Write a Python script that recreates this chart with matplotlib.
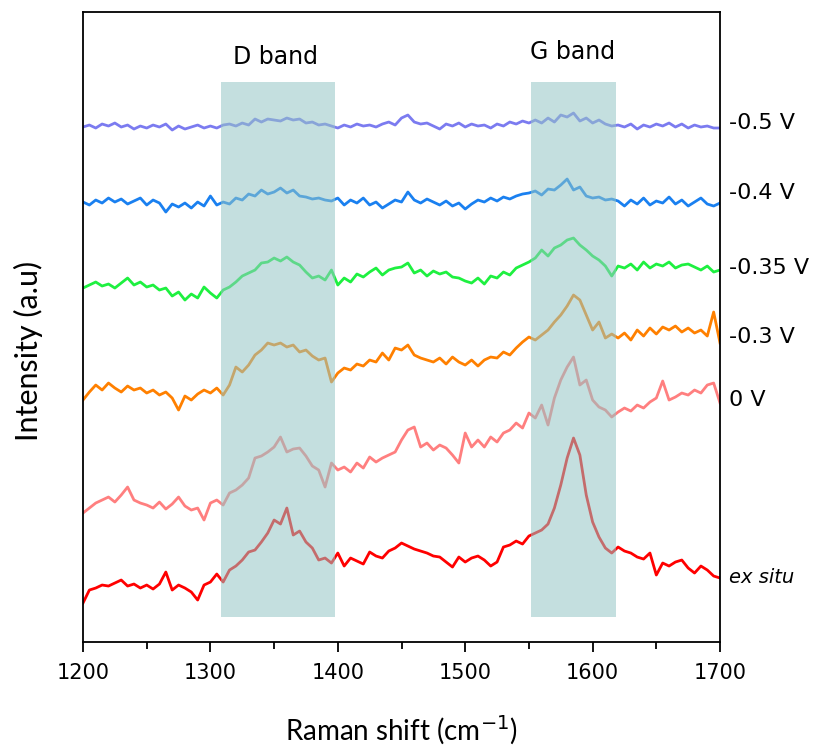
import numpy as np
import matplotlib
matplotlib.use("Agg")
import matplotlib.pyplot as plt
from matplotlib.ticker import MultipleLocator

# Raman shift range (cm-1); each series is sampled uniformly across it
x_start, x_end = 1200, 1700

ex_situ = [39, 52, 54, 57, 56, 59, 62, 56, 58, 54, 57, 53, 58, 70, 52, 57, 54, 50, 42, 57,
           60, 68, 60, 72, 76, 82, 90, 92, 100, 109, 122, 118, 134, 107, 111, 100, 94, 82, 84, 79,
           89, 76, 84, 81, 78, 90, 86, 84, 91, 94, 99, 96, 93, 91, 89, 86, 85, 80, 75, 85,
           80, 84, 86, 82, 76, 80, 95, 97, 101, 98, 106, 109, 112, 118, 134, 157, 184, 204, 187, 147,
           120, 105, 94, 89, 95, 91, 89, 85, 83, 89, 67, 79, 76, 80, 82, 74, 69, 76, 72, 66, 64]

v_0 = [129, 134, 139, 142, 145, 140, 147, 155, 142, 139, 137, 134, 140, 133, 138, 145, 136, 132, 134, 122,
       139, 142, 137, 149, 152, 157, 164, 184, 186, 190, 195, 205, 190, 193, 194, 186, 176, 172, 155, 179,
       172, 175, 170, 179, 174, 185, 180, 184, 187, 190, 202, 212, 215, 195, 199, 192, 197, 194, 187, 179,
       209, 195, 202, 195, 205, 200, 209, 212, 219, 214, 229, 224, 237, 217, 244, 262, 275, 285, 257, 262,
       242, 235, 232, 225, 230, 234, 231, 237, 234, 240, 244, 261, 242, 245, 249, 247, 252, 249, 257, 259, 239]

v_m03 = [242, 250, 257, 252, 259, 254, 250, 256, 252, 254, 249, 252, 247, 250, 244, 232, 246, 242, 248, 252,
         249, 254, 247, 257, 275, 270, 277, 287, 292, 299, 297, 299, 295, 297, 290, 292, 286, 282, 284, 260,
         269, 274, 272, 278, 276, 282, 280, 289, 282, 294, 292, 297, 287, 284, 282, 280, 284, 278, 285, 280,
         277, 282, 276, 282, 285, 284, 290, 287, 294, 300, 305, 302, 307, 312, 320, 327, 336, 347, 342, 327,
         312, 320, 304, 308, 304, 309, 302, 312, 306, 314, 308, 315, 312, 316, 310, 314, 309, 312, 306, 330, 299]

v_m035 = [354, 357, 360, 356, 358, 354, 359, 364, 357, 360, 355, 357, 352, 354, 346, 350, 342, 348, 344, 355,
          349, 344, 352, 355, 360, 366, 369, 372, 379, 380, 384, 381, 385, 380, 377, 370, 364, 366, 362, 372,
          357, 364, 360, 368, 365, 370, 374, 367, 372, 374, 375, 379, 369, 372, 366, 371, 368, 370, 365, 364,
          361, 359, 364, 358, 366, 364, 370, 367, 374, 377, 380, 384, 392, 386, 394, 397, 402, 404, 397, 392,
          386, 382, 376, 366, 376, 374, 378, 372, 380, 374, 378, 376, 380, 374, 377, 378, 375, 372, 376, 370, 372]

v_m04 = [440, 437, 442, 439, 444, 440, 443, 438, 441, 444, 437, 442, 439, 430, 438, 435, 439, 434, 440, 436,
         446, 437, 440, 438, 444, 442, 448, 446, 452, 448, 450, 454, 449, 452, 446, 445, 443, 444, 442, 441,
         444, 437, 442, 439, 444, 437, 440, 434, 438, 442, 440, 450, 442, 439, 443, 440, 437, 441, 436, 439,
         433, 438, 442, 440, 444, 441, 445, 443, 446, 448, 449, 451, 447, 453, 452, 457, 463, 452, 455, 446,
         444, 445, 442, 443, 441, 436, 442, 438, 444, 437, 441, 439, 445, 438, 442, 436, 440, 444, 438, 436, 439]

v_m05 = [515, 517, 514, 518, 516, 519, 515, 517, 513, 516, 514, 517, 515, 518, 512, 516, 513, 515, 517, 514,
         516, 514, 517, 518, 516, 519, 517, 523, 520, 523, 522, 521, 524, 522, 523, 519, 520, 517, 518, 516,
         514, 517, 515, 518, 516, 517, 515, 518, 520, 517, 524, 527, 520, 518, 519, 516, 513, 518, 516, 519,
         515, 518, 516, 517, 514, 518, 516, 520, 518, 521, 519, 522, 519, 524, 520, 527, 525, 529, 521, 524,
         519, 522, 518, 516, 517, 515, 518, 513, 517, 515, 518, 516, 519, 515, 518, 514, 517, 515, 516, 514, 514]

series = [v_m05, v_m04, v_m035, v_m03, v_0, ex_situ]
labels = ["-0.5 V", "-0.4 V", "-0.35 V", "-0.3 V", "0 V", "ex situ"]
colors = ["#7b7bf0", "#1a80f0", "#1ef040", "#ff8000", "#ff7f7f", "#ff0000"]

# band regions (cm-1)
d_band = (1308, 1398)
g_band = (1552, 1618)

fig = plt.figure(figsize=(8.17, 7.51), dpi=100)
ax = fig.add_axes([0.1016, 0.1451, 0.7797, 0.8389])

for y, c in zip(series, colors):
    x = np.linspace(x_start, x_end, len(y))
    ax.plot(x, y, color=c, lw=2.0, zorder=2, solid_joinstyle="round")

for lo, hi in (d_band, g_band):
    ax.axvspan(lo, hi, ymin=0.040, ymax=0.889, color="#94c6c6", alpha=0.55, lw=0, zorder=3)

ax.set_xlim(1200, 1700)
ax.set_ylim(0, 630)
ax.set_yticks([])
ax.xaxis.set_major_locator(MultipleLocator(100))
ax.xaxis.set_minor_locator(MultipleLocator(50))
ax.tick_params(axis="x", which="major", direction="out", length=7, width=1.3,
               labelsize=15, pad=8, top=False)
ax.tick_params(axis="x", which="minor", direction="out", length=5, width=1.3, top=False)
for s in ax.spines.values():
    s.set_linewidth(1.3)

for lab in ax.get_xticklabels():
    lab.set_family("DejaVu Sans")

ax.set_xlabel("Raman shift (cm$^{-1}$)", fontsize=20, family="Lato", labelpad=22)
ax.set_ylabel("Intensity (a.u)", fontsize=22, family="Lato")
ax.yaxis.set_label_coords(-0.063, 0.462)

ax.text(1351, 585, "D band", ha="center", va="center", fontsize=17, family="DejaVu Sans")
ax.text(1584, 590, "G band", ha="center", va="center", fontsize=17, family="DejaVu Sans")

label_y = [519, 449, 374, 305, 242, 65]
for lab, ly in zip(labels, label_y):
    style = "italic" if lab == "ex situ" else "normal"
    fs = 14 if lab == "ex situ" else 16
    ax.text(1707, ly, lab, ha="left", va="center", fontsize=fs, style=style,
            family="DejaVu Sans", clip_on=False)

fig.savefig("out.png", dpi=100)
